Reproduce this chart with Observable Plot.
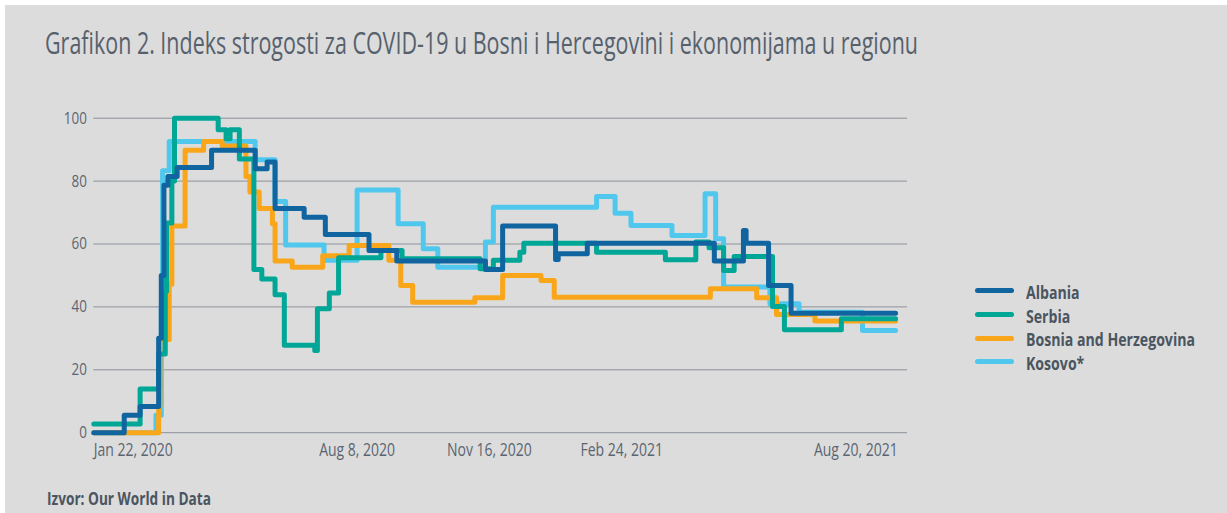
<!DOCTYPE html>
<html>
<head>
<meta charset="utf-8">
<script src="https://cdn.jsdelivr.net/npm/d3@7"></script>
<script src="https://cdn.jsdelivr.net/npm/@observablehq/plot@0.6"></script>
<style>
  html, body { margin: 0; padding: 0; background: #ffffff; width: 1227px; height: 513px; overflow: hidden; }
  #bg { position: absolute; left: 5px; top: 5px; width: 1222px; height: 508px; background: #dcdcdc; }
  .f { font-family: "Open Sans", "DejaVu Sans", sans-serif; }
  .t { position: absolute; white-space: nowrap; transform-origin: 0 50%; display: inline-block; }
  #title { left: 45px; top: 27px; font-size: 31px; color: #56616c; line-height: 31px; }
  #chart { position: absolute; left: 0; top: 100px; }
  #source { left: 47px; top: 488.6px; font-size: 18.5px; font-weight: bold; color: #4a5560; line-height: 18.5px; }
  .lg-line { position: absolute; width: 39px; height: 5px; border-radius: 3px; left: 975px; }
  .lg-text { left: 1026px; font-size: 18.5px; font-weight: bold; color: #4a5560; line-height: 18.5px; }
</style>
</head>
<body>
<div id="bg"></div>
<div id="title" class="f t">Grafikon 2. Indeks strogosti za COVID-19 u Bosni i Hercegovini i ekonomijama u regionu</div>
<div id="chart"></div>
<div id="legend"></div>
<div id="source" class="f t">Izvor: Our World in Data</div>
<script>
const countries = ["Albania", "Serbia", "Bosnia and Herzegovina", "Kosovo*"];
const colors = ["#1064a0", "#00a696", "#faa61a", "#50c8ee"];

const albaniaDates = ["2020-01-22","2020-02-14","2020-02-26","2020-03-11","2020-03-13","2020-03-15","2020-03-18","2020-03-25","2020-04-20","2020-05-23","2020-06-01","2020-06-07","2020-06-29","2020-07-15","2020-08-17","2020-09-07","2020-11-13","2020-11-26","2021-01-05","2021-01-07","2021-01-29","2021-05-05","2021-05-27","2021-05-29","2021-06-15","2021-07-02","2021-09-19"];
const albaniaValues = [0,5.56,8.33,30,50,78.7,81.5,84.3,89.8,83.9,86.1,71.3,68.5,63,57.9,54.6,51.9,65.7,55.1,56.9,60.2,54.6,64.3,60.2,46.8,38,38];

const serbiaDates = ["2020-01-22","2020-02-26","2020-03-11","2020-03-16","2020-03-17","2020-03-21","2020-03-23","2020-04-25","2020-05-01","2020-05-04","2020-05-11","2020-05-22","2020-05-28","2020-06-07","2020-06-14","2020-07-07","2020-07-09","2020-07-18","2020-07-25","2020-08-26","2020-09-11","2020-11-09","2020-11-19","2020-12-09","2020-12-12","2021-02-05","2021-03-29","2021-04-21","2021-05-01","2021-05-12","2021-05-20","2021-06-18","2021-06-27","2021-08-09","2021-09-19"];
const serbiaValues = [2.78,13.89,25,45,66.7,80,100,96.3,93.5,96.3,87,51.9,48.9,43.9,27.8,26.1,39.4,44.4,55.6,57.9,55.3,52.1,54.8,57.4,60.2,57.4,55,60.6,58.8,51.6,56,40.1,32.7,36.2,36.2];

const bosniaDates = ["2020-01-22","2020-03-11","2020-03-12","2020-03-19","2020-03-21","2020-03-31","2020-04-14","2020-04-28","2020-05-16","2020-05-19","2020-05-26","2020-06-05","2020-06-07","2020-06-20","2020-07-13","2020-08-02","2020-09-01","2020-09-10","2020-09-19","2020-11-05","2020-11-26","2020-12-25","2021-01-04","2021-05-02","2021-06-06","2021-06-21","2021-07-20","2021-09-19"];
const bosniaValues = [0,8.33,29.6,47.2,65.7,89.8,92.6,91.2,81.5,76.5,71.3,66.4,54.6,52.6,56.3,59.5,54.8,46.8,41.5,42.9,50,48.4,43.1,45.8,42.9,37.6,35.5,35.5];

const kosovoDates = ["2020-01-22","2020-03-09","2020-03-13","2020-03-14","2020-03-19","2020-05-23","2020-06-07","2020-06-15","2020-07-14","2020-08-08","2020-09-08","2020-09-27","2020-10-08","2020-11-13","2020-11-19","2021-02-05","2021-02-19","2021-03-03","2021-04-03","2021-04-28","2021-05-06","2021-05-12","2021-06-16","2021-07-08","2021-08-25","2021-09-19"];
const kosovoValues = [0,5.56,40,83.3,92.6,86.8,73.5,59.7,54.8,77.2,66.4,58.5,52.6,60.6,71.7,75.1,69.8,65.9,62.7,76,61.7,46.3,41,38.3,32.5,32.5];

const yTicks = [0, 20, 40, 60, 80, 100];
const xTickDates = ["2020-01-22", "2020-08-08", "2020-11-16", "2021-02-24", "2021-08-20"];
const xDomain = ["2020-01-22", "2021-09-28"];

const FONT = '"Open Sans", "DejaVu Sans", sans-serif';
const parse = d3.utcParse("%Y-%m-%d");
const fmt = d3.utcFormat("%b %-d, %Y");

const seriesDates = [albaniaDates, serbiaDates, bosniaDates, kosovoDates];
const seriesValues = [albaniaValues, serbiaValues, bosniaValues, kosovoValues];
const series = countries.map((c, i) => seriesDates[i].map((d, j) => ({country: c, date: parse(d), value: seriesValues[i][j]})));

// drawing order: Kosovo, Bosnia, Serbia, Albania on top
const drawOrder = [3, 2, 1, 0];

const plot = Plot.plot({
  width: 960,
  height: 364,
  marginLeft: 93.3,
  marginRight: 53,
  marginTop: 17.7,
  marginBottom: 31.8,
  style: {background: "transparent", fontFamily: FONT, color: "#5a6571", overflow: "visible"},
  x: {type: "utc", domain: xDomain.map(parse)},
  y: {domain: [0, 100]},
  marks: [
    Plot.ruleY(yTicks, {stroke: "#8c9299", strokeWidth: 1}),
    Plot.axisY({ticks: yTicks, tickSize: 0, tickPadding: 7, fontSize: 17, fill: "#5a6571", label: null}),
    Plot.axisX({ticks: [parse(xTickDates[0])], tickFormat: fmt, tickSize: 0, tickPadding: 9.7, fontSize: 18.5, fill: "#5a6571", textAnchor: "start", label: null}),
    Plot.axisX({ticks: xTickDates.slice(1).map(parse), tickFormat: fmt, tickSize: 0, tickPadding: 9.7, fontSize: 18.5, fill: "#5a6571", label: null}),
    ...drawOrder.map(i => Plot.line(series[i], {
      x: "date", y: "value", curve: "step-after",
      stroke: colors[i], strokeWidth: 5, strokeLinecap: "round", strokeLinejoin: "round"
    }))
  ]
});
document.getElementById("chart").appendChild(plot);

// legend
const legend = document.getElementById("legend");
const legendTop = 290.7, legendStep = 23.7;
const legendTexts = [];
countries.forEach((c, i) => {
  const y = legendTop + i * legendStep;
  const ln = document.createElement("div");
  ln.className = "lg-line";
  ln.style.top = (y - 2.5) + "px";
  ln.style.background = colors[i];
  legend.appendChild(ln);
  const tx = document.createElement("div");
  tx.className = "lg-text f t";
  tx.style.top = (y - 7.8) + "px";
  tx.textContent = c;
  legend.appendChild(tx);
  legendTexts.push(tx);
});

// condensed look: compress text horizontally to the reference's widths
function squeezeHTML(els, refEl, target) {
  const f = target / refEl.getBoundingClientRect().width;
  els.forEach(el => { el.style.transform = `scaleX(${f})`; });
}
squeezeHTML([document.getElementById("title")], document.getElementById("title"), 873);
squeezeHTML([document.getElementById("source")], document.getElementById("source"), 164);
squeezeHTML(legendTexts, legendTexts[2], 169);

function squeezeSVG(selector, refText, target) {
  const texts = Array.from(plot.querySelectorAll(selector));
  const ref = texts.find(t => t.textContent === refText) || texts[0];
  const f = target / ref.getComputedTextLength();
  texts.forEach(t => {
    t.setAttribute("textLength", t.getComputedTextLength() * f);
    t.setAttribute("lengthAdjust", "spacingAndGlyphs");
  });
}
squeezeSVG('g[aria-label="x-axis tick label"] text', "Jan 22, 2020", 79);
squeezeSVG('g[aria-label="y-axis tick label"] text', "100", 23);
</script>
</body>
</html>
